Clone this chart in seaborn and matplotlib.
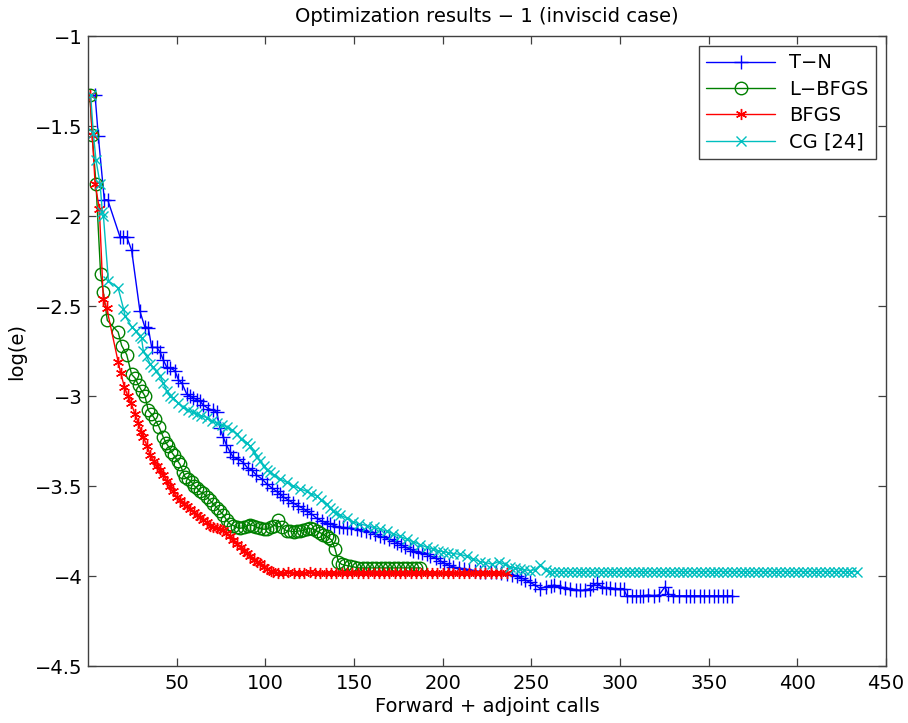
import matplotlib
matplotlib.use("Agg")
import matplotlib.pyplot as plt
import pandas as pd
import seaborn as sns

# ---- convergence histories: (forward + adjoint calls, log(e)) ----
tn_x = [
    4, 5.8, 9.2, 11.1, 18, 19.9, 21.8, 24.6, 29.3, 32,
    34, 35.9, 38.7, 40.6, 42.5, 44.4, 46.5, 49, 51, 53,
    55.7, 57.5, 59.4, 61.3, 63.2, 65, 67.9, 70.7, 72.6, 74.4,
    76.3, 78, 80, 82, 84.5, 87.6, 90, 92.3, 95, 98,
    101, 103.6, 106.4, 108.3, 110, 112.5, 115.8, 118.5, 121.4, 123.3,
    126, 129, 132, 134.5, 136.5, 139, 141.5, 144, 146, 148.5,
    151.5, 154, 156.5, 159, 162, 164.7, 167, 170, 172.5, 174.5,
    176.5, 179, 181.5, 183.5, 186, 188.5, 191, 193, 196, 198.5,
    201, 203.5, 206, 209, 212, 215, 218, 221, 224, 227,
    230, 233, 236, 239, 241.8, 244, 246.5, 249, 252, 255,
    258, 261, 263, 266, 269, 271.9, 275, 277.5, 280, 283,
    285, 287, 290, 292, 294.4, 297, 300, 302, 303.8, 306.6,
    309, 311, 313, 316, 319, 322, 325.4, 327, 330, 333,
    337, 339.5, 342, 345, 347.5, 350, 353, 355.5, 358, 360.5,
    363]
tn_y = [
    -1.33, -1.555, -1.91, -1.91, -2.115, -2.115, -2.115, -2.19, -2.53, -2.615,
    -2.62, -2.73, -2.73, -2.755, -2.80, -2.84, -2.845, -2.86, -2.91, -2.93,
    -2.99, -3.00, -3.01, -3.02, -3.03, -3.05, -3.07, -3.08, -3.09, -3.18,
    -3.23, -3.27, -3.31, -3.34, -3.35, -3.37, -3.40, -3.41, -3.44, -3.46,
    -3.49, -3.51, -3.53, -3.545, -3.56, -3.575, -3.595, -3.61, -3.625, -3.64,
    -3.655, -3.68, -3.695, -3.705, -3.71, -3.72, -3.73, -3.73, -3.735, -3.735,
    -3.74, -3.745, -3.75, -3.755, -3.765, -3.78, -3.785, -3.795, -3.805, -3.815,
    -3.825, -3.84, -3.85, -3.86, -3.865, -3.87, -3.875, -3.89, -3.90, -3.915,
    -3.93, -3.94, -3.95, -3.955, -3.96, -3.965, -3.97, -3.975, -3.975, -3.98,
    -3.98, -3.985, -3.99, -3.995, -4.00, -4.01, -4.02, -4.035, -4.05, -4.07,
    -4.06, -4.055, -4.05, -4.06, -4.065, -4.07, -4.075, -4.08, -4.08, -4.07,
    -4.05, -4.04, -4.06, -4.065, -4.065, -4.07, -4.07, -4.07, -4.11, -4.11,
    -4.11, -4.11, -4.11, -4.105, -4.11, -4.105, -4.06, -4.10, -4.11, -4.11,
    -4.11, -4.11, -4.11, -4.11, -4.11, -4.11, -4.11, -4.11, -4.11, -4.11,
    -4.11]

lb_x = [
    1.1, 2.4, 4.5, 7.1, 8.6, 10.9, 17, 19, 21.8, 24.6,
    26.5, 28.5, 30.2, 32.1, 34, 35.8, 37.8, 40, 42.5, 44,
    45.3, 47, 48.5, 50.5, 51.9, 53.5, 54.7, 56.5, 58.5, 60,
    61.3, 63, 65, 67, 68.8, 70.7, 72.6, 74.5, 76.3, 78.2,
    80, 82, 84, 85.7, 88, 90, 91.5, 93.2, 95, 97,
    99, 100.8, 103, 105, 107.3, 109.5, 112, 114, 116, 118,
    119.6, 121.5, 123.3, 125, 127, 129, 131, 132.7, 134.5, 136,
    137.4, 139.3, 141.2, 143, 145, 147.8, 150, 152.5, 155, 157.5,
    160, 162.5, 165, 167.5, 170, 172.5, 175, 177.5, 180, 182.5,
    185, 187.5]
lb_y = [
    -1.33, -1.55, -1.82, -2.32, -2.42, -2.58, -2.645, -2.72, -2.77, -2.88,
    -2.90, -2.94, -2.97, -3.00, -3.08, -3.10, -3.13, -3.17, -3.23, -3.26,
    -3.28, -3.31, -3.33, -3.36, -3.38, -3.42, -3.45, -3.46, -3.48, -3.50,
    -3.51, -3.53, -3.54, -3.56, -3.58, -3.60, -3.62, -3.64, -3.66, -3.69,
    -3.71, -3.72, -3.73, -3.735, -3.73, -3.72, -3.715, -3.72, -3.73, -3.735,
    -3.74, -3.74, -3.73, -3.72, -3.69, -3.73, -3.75, -3.75, -3.755, -3.75,
    -3.75, -3.745, -3.74, -3.735, -3.74, -3.75, -3.76, -3.77, -3.78, -3.79,
    -3.80, -3.85, -3.92, -3.935, -3.94, -3.945, -3.95, -3.955, -3.955, -3.955,
    -3.955, -3.955, -3.955, -3.955, -3.955, -3.955, -3.955, -3.955, -3.955, -3.955,
    -3.955, -3.955]

bf_x = [
    1.1, 2.4,
    4, 6.4, 8.6, 10.5, 17, 18.4, 20.5, 22.5, 24.3, 26.5,
    28.4, 30, 31.2, 33.5, 35, 37, 39, 40.6, 42.5, 44.4,
    46, 48, 50, 52, 54, 55.7, 57.5, 59.5, 61.5, 63,
    65, 67, 69, 70.7, 72.5, 74.5, 76.3, 78, 80, 82,
    84, 86, 88, 89.5, 91.5, 93.5, 95.5, 97, 99, 101,
    103, 104.5, 107, 110, 113, 116, 119, 122, 125, 128,
    131, 134, 137, 140, 143, 146, 149, 152, 155, 158,
    161, 164, 167, 170, 173, 176, 179, 182, 185, 188,
    191, 194, 197, 200, 203, 206, 209, 212, 215, 218,
    221, 224, 227, 230, 233, 236]
bf_y = [
    -1.33, -1.55,
    -1.82, -1.96, -2.46, -2.51, -2.81, -2.87, -2.95, -3.00, -3.04, -3.10,
    -3.15, -3.20, -3.23, -3.28, -3.33, -3.36, -3.39, -3.41, -3.44, -3.47,
    -3.50, -3.53, -3.56, -3.58, -3.60, -3.61, -3.63, -3.645, -3.66, -3.67,
    -3.69, -3.70, -3.72, -3.73, -3.735, -3.74, -3.745, -3.76, -3.78, -3.80,
    -3.82, -3.84, -3.86, -3.87, -3.89, -3.91, -3.92, -3.93, -3.95, -3.96,
    -3.97, -3.98, -3.985, -3.985, -3.98, -3.985, -3.985, -3.985, -3.98, -3.985,
    -3.985, -3.985, -3.985, -3.985, -3.985, -3.985, -3.985, -3.985, -3.985, -3.985,
    -3.985, -3.985, -3.985, -3.985, -3.985, -3.985, -3.985, -3.985, -3.985, -3.985,
    -3.985, -3.985, -3.985, -3.985, -3.985, -3.985, -3.985, -3.985, -3.985, -3.985,
    -3.985, -3.985, -3.985, -3.985, -3.985, -3.985]

cg_x = [
    1.5, 3, 4.5, 6.8, 8.1, 8.7, 11.5, 17, 20, 20.9,
    24.6, 27, 29.3, 30.2, 31.2, 33, 35, 36.5, 38.5, 40.6,
    42.5, 44.4, 46.2, 48, 51, 53.5, 56.6, 59, 61.3, 64,
    67, 70, 72.6, 75.5, 78.2, 81, 83.9, 86.5, 89.5, 91.4,
    93.5, 95.2, 97, 99, 100.8, 102.6, 105, 108.3, 112, 115.8,
    119.5, 123.3, 126, 129, 131.5, 134.6, 136.5, 138.4, 140, 142,
    146, 149.6, 153, 157.2, 161, 164.7, 168.5, 172.2, 176, 179.7,
    183.5, 187.3, 191, 194.7, 197.5, 200.4, 203, 206, 210, 213.5,
    217, 221, 224, 228, 231.5, 235, 238, 241, 243.6, 246,
    249, 252, 255, 258, 260.6, 263, 265.5, 268, 270.5, 273,
    275.5, 278, 280.5, 283, 285.5, 288, 290.5, 293, 295.5, 298,
    300.5, 303, 305.5, 308, 310.5, 313, 315.5, 318, 320.5, 323,
    325.5, 328, 330.5, 333, 335.5, 338, 340.5, 343, 345.5, 348,
    350.5, 353, 355.5, 358, 360.5, 363, 365.5, 368, 370.5, 373,
    375.5, 378, 380.5, 383, 385.5, 388, 390.5, 393, 395.5, 398,
    400.5, 403, 405.5, 408, 410.5, 413, 415.5, 418, 420.5, 423,
    425.5, 428, 430.5, 433.5]
cg_y = [
    -1.33, -1.54, -1.69, -1.82, -1.98, -2.00, -2.36, -2.40, -2.515, -2.555,
    -2.615, -2.64, -2.665, -2.68, -2.75, -2.78, -2.82, -2.84, -2.86, -2.89,
    -2.93, -2.97, -3.00, -3.01, -3.04, -3.06, -3.08, -3.09, -3.10, -3.11,
    -3.12, -3.14, -3.15, -3.16, -3.17, -3.19, -3.21, -3.24, -3.26, -3.28,
    -3.31, -3.34, -3.36, -3.39, -3.41, -3.42, -3.44, -3.46, -3.48, -3.50,
    -3.515, -3.53, -3.545, -3.555, -3.575, -3.60, -3.62, -3.64, -3.65, -3.66,
    -3.68, -3.70, -3.71, -3.72, -3.73, -3.74, -3.75, -3.765, -3.78, -3.795,
    -3.81, -3.825, -3.84, -3.85, -3.86, -3.865, -3.87, -3.875, -3.88, -3.89,
    -3.905, -3.92, -3.925, -3.935, -3.92, -3.935, -3.95, -3.955, -3.96, -3.965,
    -3.97, -3.965, -3.94, -3.965, -3.975, -3.975, -3.975, -3.975, -3.975, -3.975,
    -3.975, -3.975, -3.975, -3.975, -3.975, -3.975, -3.975, -3.975, -3.975, -3.975,
    -3.975, -3.975, -3.975, -3.975, -3.975, -3.975, -3.975, -3.975, -3.975, -3.975,
    -3.975, -3.975, -3.975, -3.975, -3.975, -3.975, -3.975, -3.975, -3.975, -3.975,
    -3.975, -3.975, -3.975, -3.975, -3.975, -3.975, -3.975, -3.975, -3.975, -3.975,
    -3.975, -3.975, -3.975, -3.975, -3.975, -3.975, -3.975, -3.975, -3.975, -3.975,
    -3.975, -3.975, -3.975, -3.975, -3.975, -3.975, -3.975, -3.975, -3.975, -3.975,
    -3.975, -3.975, -3.975, -3.975]

series_names = ["T\u2212N", "L\u2212BFGS", "BFGS", "CG [24]"]
series_colors = ["#0000ff", "#008000", "#ff0000", "#00bfbf"]

x_ticks = [50, 100, 150, 200, 250, 300, 350, 400, 450]
y_ticks = [-4.5, -4, -3.5, -3, -2.5, -2, -1.5, -1]
y_tick_labels = ["\u22124.5", "\u22124", "\u22123.5", "\u22123",
                 "\u22122.5", "\u22122", "\u22121.5", "\u22121"]

sns.set_theme(style="ticks")
plt.rcParams["font.family"] = ["DejaVu Sans"]
plt.rcParams["text.color"] = "black"
plt.rcParams["axes.labelcolor"] = "black"

fig = plt.figure(figsize=(9.08, 7.23), dpi=100)
fig.patch.set_facecolor("white")
ax = fig.add_axes([88 / 908, 57 / 723, 798 / 908, 630 / 723])
ax.set_facecolor("white")

styles = [
    dict(marker="+", markersize=9.5, markeredgewidth=1.0),
    dict(marker="o", markersize=9, markeredgewidth=1.0, markerfacecolor="none"),
    dict(marker=(6, 2, 0), markersize=8, markeredgewidth=1.0),
    dict(marker="x", markersize=7, markeredgewidth=1.0),
]
data = [(tn_x, tn_y), (lb_x, lb_y), (bf_x, bf_y), (cg_x, cg_y)]

for (xs, ys), name, col, st in zip(data, series_names, series_colors, styles):
    df = pd.DataFrame({"calls": xs, "loge": ys})
    sns.lineplot(data=df, x="calls", y="loge", ax=ax, color=col,
                 linewidth=1.0, sort=False, estimator=None,
                 markeredgecolor=col, label=name, **st)

ax.set_xlim(0, 450)
ax.set_ylim(-4.5, -1)
ax.set_xticks(x_ticks)
ax.set_xticklabels([str(t) for t in x_ticks])
ax.set_yticks(y_ticks)
ax.set_yticklabels(y_tick_labels)

ax.tick_params(direction="in", length=6, width=0.9, color="#404040",
               top=True, right=True, labelsize=14, labelcolor="black")
ax.tick_params(axis="x", pad=6)
ax.tick_params(axis="y", pad=4)
for sp in ax.spines.values():
    sp.set_visible(True)
    sp.set_color("#404040")
    sp.set_linewidth(1.0)

ax.set_title("Optimization results \u2212 1 (inviscid case)", fontsize=14,
             pad=10, color="black")
ax.set_xlabel("Forward + adjoint calls", fontsize=14, labelpad=3)
ax.set_ylabel("log(e)", fontsize=14, labelpad=6)

leg = ax.legend(loc="upper right", fontsize=14, frameon=True, fancybox=False,
                framealpha=1, edgecolor="#404040", handlelength=3.5,
                handletextpad=0.75, labelspacing=0.38, borderpad=0.4,
                numpoints=1, borderaxespad=0.5)
leg.get_frame().set_linewidth(1.0)
for txt in leg.get_texts():
    txt.set_color("black")

fig.savefig("out.png", dpi=100, facecolor="white")
